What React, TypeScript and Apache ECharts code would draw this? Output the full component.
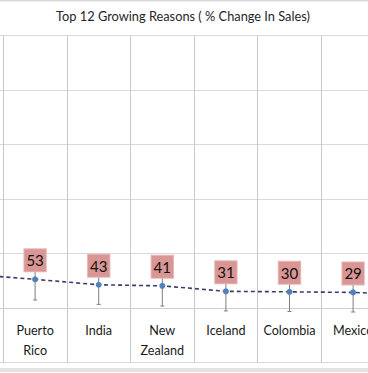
import React, { useEffect, useRef } from "react";
import * as echarts from "echarts";

// Neighbouring categories at both ends fall outside the visible crop
const categories = ["", "Puerto Rico", "India", "New Zealand", "Iceland", "Colombia", "Mexico", ""];
const values = [62, 53, 43, 41, 31, 30, 29, 24];
const errors = [36, 38, 36, 37, 36, 36, 36, 36];
const yTicks = [-100, 0, 100, 200, 300, 400, 500];
const titleText = "Top 12 Growing Reasons ( % Change In Sales)";

const OFFSET = 61; // chart canvas starts left of the visible window
const CHART_W = 510;
const CHART_H = 373;
const GRID_H = 327;

export default function App() {
  const ref = useRef<HTMLDivElement>(null);
  useEffect(() => {
    if (!ref.current) return;
    const chart = echarts.init(ref.current, null, { renderer: "svg", width: CHART_W, height: CHART_H });
    const font = "Lato, 'Open Sans', sans-serif";
    const yMin = yTicks[0];
    const yMax = yTicks[yTicks.length - 1];
    // move the category axis up to the zero line
    const zeroOffset = -(GRID_H * (0 - yMin)) / (yMax - yMin);
    const lineData = values.map((v, i) => ({
      value: v,
      label: { show: categories[i] !== "" },
    }));
    chart.setOption({
      animation: false,
      backgroundColor: "#ffffff",
      graphic: [
        { type: "rect", shape: { x: 0, y: 0, width: CHART_W, height: 1.5 }, style: { fill: "#d9d9d9" } },
        { type: "rect", shape: { x: 0, y: 368, width: CHART_W, height: 4 }, style: { fill: "#e3e3e3" } },
        {
          type: "text",
          x: OFFSET + 183,
          y: 16,
          style: {
            text: titleText,
            fontFamily: font,
            fontSize: 12.8,
            fill: "#262626",
            textAlign: "center",
            textVerticalAlign: "middle",
          },
        },
      ],
      grid: {
        left: 0.7,
        width: 508.8,
        top: 35.7,
        height: GRID_H,
        containLabel: false,
        outerBoundsMode: "none",
      },
      xAxis: {
        type: "category",
        data: categories,
        boundaryGap: true,
        position: "bottom",
        offset: zeroOffset,
        axisLine: { show: true, onZero: false, lineStyle: { color: "#d0d0d0", width: 1 } },
        axisTick: { show: false },
        splitLine: { show: true, interval: 0, lineStyle: { color: "#c8c8c8", width: 1 } },
        axisLabel: {
          interval: 0,
          margin: 12,
          fontFamily: font,
          fontSize: 12.6,
          lineHeight: 20,
          color: "#1a1a1a",
          formatter: (v: string) => v.replace(" ", "\n"),
        },
      },
      yAxis: {
        type: "value",
        min: yMin,
        max: yMax,
        interval: 100,
        axisLabel: { show: false },
        axisLine: { show: false },
        axisTick: { show: false },
        splitLine: { show: true, lineStyle: { color: "#d9d9d9", width: 1 } },
      },
      series: [
        {
          type: "custom",
          z: 1,
          data: values.map((v, i) => [i, v, errors[i]]),
          renderItem: (params: any, api: any) => {
            const x = api.value(0);
            const v = api.value(1);
            const e = api.value(2);
            const lo = api.coord([x, v - e]);
            const hi = api.coord([x, v + e]);
            const cw = 2;
            const style = { stroke: "#7f7f7f", lineWidth: 1 };
            return {
              type: "group",
              children: [
                { type: "line", shape: { x1: lo[0], y1: lo[1], x2: hi[0], y2: hi[1] }, style },
                { type: "line", shape: { x1: lo[0] - cw, y1: lo[1], x2: lo[0] + cw, y2: lo[1] }, style },
                { type: "line", shape: { x1: hi[0] - cw, y1: hi[1], x2: hi[0] + cw, y2: hi[1] }, style },
              ],
            };
          },
        },
        {
          type: "line",
          z: 3,
          data: lineData,
          symbol: "circle",
          symbolSize: 6,
          itemStyle: { color: "#4f81bd" },
          lineStyle: { color: "#3b3a6b", width: 1.6, type: [4, 3] },
          label: {
            show: true,
            position: "top",
            distance: 5,
            fontFamily: font,
            fontSize: 15,
            lineHeight: 16,
            color: "#111111",
            backgroundColor: "#d99694",
            borderColor: "#e6b9b8",
            borderWidth: 1,
            padding: [3, 2],
          },
        },
      ],
    });
    return () => chart.dispose();
  }, []);
  return (
    <div style={{ position: "fixed", left: 0, top: 0, width: 368, height: CHART_H, overflow: "hidden" }}>
      <div
        ref={ref}
        style={{ position: "absolute", left: -OFFSET, top: 0, width: CHART_W, height: CHART_H }}
      />
    </div>
  );
}
